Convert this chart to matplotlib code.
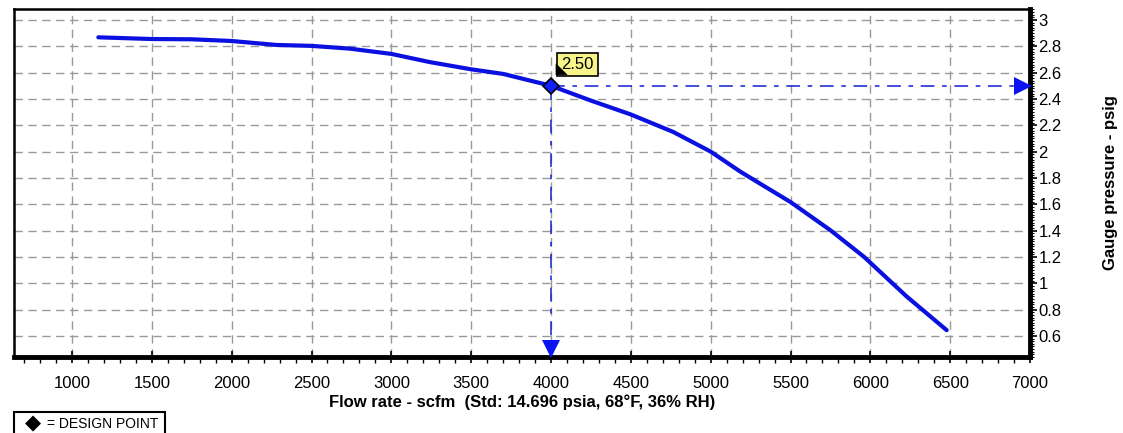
import numpy as np
import matplotlib.pyplot as plt
from matplotlib.ticker import MultipleLocator
from matplotlib.patches import Polygon, Rectangle
import matplotlib.transforms as mtransforms

plt.rcParams['font.family'] = ['Liberation Sans', 'DejaVu Sans']

# fan curve
flow = [1165, 1500, 1750, 2000, 2280, 2500, 2740, 3000, 3240, 3500, 3700, 4000,
        4244, 4500, 4766, 5000, 5183, 5309, 5500, 5753, 5961, 6227, 6478]
pressure = [2.868, 2.855, 2.853, 2.84, 2.81, 2.803, 2.782, 2.742, 2.68, 2.625, 2.59, 2.50,
            2.39, 2.282, 2.149, 2.0, 1.85, 1.757, 1.617, 1.40, 1.20, 0.90, 0.644]

design_flow = 4000
design_pressure = 2.50
design_label = '2.50'

x_ticks = [1000, 1500, 2000, 2500, 3000, 3500, 4000, 4500, 5000, 5500, 6000, 6500, 7000]
y_ticks = [0.6, 0.8, 1, 1.2, 1.4, 1.6, 1.8, 2, 2.2, 2.4, 2.6, 2.8, 3]
xlim = (637, 7000)
ylim = (0.44, 3.083)

fig = plt.figure(figsize=(11.23, 4.33), dpi=100)
ax = fig.add_axes([0.0125, 0.1755, 0.9047, 0.8037])
ax.set_xlim(*xlim)
ax.set_ylim(*ylim)

ax.plot(flow, pressure, color='#0a10e0', lw=3, solid_capstyle='round', solid_joinstyle='round', zorder=4)

# design point guides
dash = (0, (9, 5, 3, 5))
ax.plot([design_flow, xlim[1]], [design_pressure, design_pressure], color='#1020d0', lw=1.1, linestyle=dash, zorder=3)
ax.plot([design_flow, design_flow], [design_pressure, ylim[0]], color='#1020d0', lw=1.1, linestyle=dash, zorder=3)
ax.plot([xlim[1]], [design_pressure], marker='>', ms=13, color='#0a14f0', clip_on=False, zorder=5,
        markeredgewidth=0, transform=ax.transData + mtransforms.ScaledTranslation(-7/100, 0, fig.dpi_scale_trans))
ax.plot([design_flow], [ylim[0]], marker='v', ms=13, color='#0a14f0', clip_on=False, zorder=5,
        markeredgewidth=0, transform=ax.transData + mtransforms.ScaledTranslation(0, 8/100, fig.dpi_scale_trans))
ax.plot([design_flow], [design_pressure], marker='D', ms=8, markerfacecolor='#1020ff', markeredgecolor='black',
        markeredgewidth=1.2, zorder=6)

# value tag
ax.annotate(design_label, xy=(design_flow, design_pressure), xytext=(10, 14), textcoords='offset pixels',
            fontsize=12, ha='left', va='bottom', zorder=7,
            bbox=dict(boxstyle='square,pad=0.25', fc='#f7f58a', ec='black', lw=1.2))
px, py = ax.transData.transform((design_flow, design_pressure))
tri = Polygon([(px + 5, py + 11), (px + 5, py + 22), (px + 16, py + 11)], closed=True,
              fc='black', ec='black', lw=0.5, transform=mtransforms.IdentityTransform(),
              clip_on=False, zorder=8)
ax.add_artist(tri)

ax.set_xticks(x_ticks)
ax.set_yticks(y_ticks)
ax.set_yticklabels([f'{v:g}' for v in y_ticks])
ax.xaxis.set_minor_locator(MultipleLocator(100))
ax.yaxis.set_minor_locator(MultipleLocator(0.02))
ax.yaxis.tick_right()
ax.yaxis.set_label_position('right')
ax.tick_params(axis='x', which='major', direction='inout', length=9, width=1.2, labelsize=12, pad=9)
ax.tick_params(axis='x', which='minor', direction='out', length=4, width=1)
ax.tick_params(axis='y', which='major', direction='out', length=5, width=1.2, labelsize=12, pad=1)
ax.tick_params(axis='y', which='minor', direction='out', length=3, width=0.8)

ax.grid(True, which='major', color='#999999', linestyle=(0, (6, 4)), lw=1)

for s in ['left', 'top']:
    ax.spines[s].set_linewidth(1.8)
for s in ['bottom', 'right']:
    ax.spines[s].set_linewidth(3.5)

ax.set_xlabel('Flow rate - scfm  (Std: 14.696 psia, 68°F, 36% RH)', fontsize=12, fontweight='bold', labelpad=3)
ax.set_ylabel('Gauge pressure - psig', fontsize=12, fontweight='bold', labelpad=30)

# design point key
fig.add_artist(Rectangle((14/1123, -0.01), 151/1123, 21/433 + 0.01, transform=fig.transFigure,
                         fc='white', ec='black', lw=1.5, clip_on=False))
fig.text(33/1123, 1 - 424/433, '◆', fontsize=15, ha='center', va='center')
fig.text(47/1123, 1 - 424/433, '= DESIGN POINT', fontsize=10, ha='left', va='center')

fig.savefig('out.png', dpi=100)
